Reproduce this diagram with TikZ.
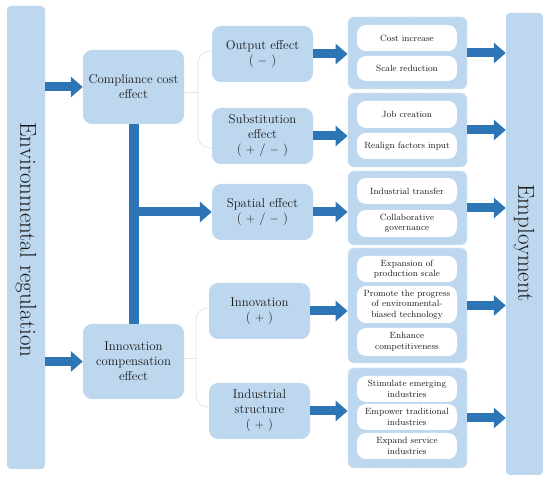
\documentclass[tikz,border=0pt]{standalone}
\usetikzlibrary{arrows.meta}
\definecolor{lb}{HTML}{BDD7EE}
\definecolor{ab}{HTML}{2E75B6}
\definecolor{brc}{HTML}{E4E4E4}
\definecolor{txt}{HTML}{1A1A1A}
\begin{document}
\begin{tikzpicture}[x=1pt,y=-1pt,
  tall/.style={fill=lb, rounded corners=4pt, inner sep=0pt, text=txt},
  talltext/.style={rotate=-90, text=txt, inner sep=0pt, font=\fontsize{23}{26}\selectfont},
  box/.style={fill=lb, rounded corners=9pt, inner sep=0pt, align=center, text=txt,
    minimum width=101pt, font=\fontsize{12.8}{15}\selectfont},
  grp/.style={fill=lb, draw=lb!55!white, dash pattern=on 3pt off 2pt, line width=0.8pt,
    rounded corners=6pt, inner sep=0pt, minimum width=119pt},
  inr/.style={fill=white, rounded corners=9pt, inner sep=0pt, align=center, text=txt,
    minimum width=100pt, font=\fontsize{9}{10.5}\selectfont},
  bigarrow/.style={draw=ab, line width=9pt,
    -{Triangle[length=12pt,width=20pt]}},
  bar/.style={draw=ab, line width=10pt},
  brace/.style={draw=brc, line width=0.8pt}
]
\useasboundingbox (0,0) rectangle (550,481);

% tall boxes
\node[tall, minimum width=38pt, minimum height=463pt] (env) at (26,237.5) {};
\node[talltext] (envt) at (26,240) {Environmental regulation};
\node[tall, minimum width=37pt, minimum height=462pt] (emp) at (524.5,244) {};
\node[talltext] (empt) at (524,243) {Employment};

% first level
\node[box, minimum height=74pt] (cc) at (133.5,87) {Compliance cost\\effect};
\node[box, minimum height=75pt] (ic) at (133.5,361.5) {Innovation\\compensation\\effect};

% second level
\node[box, minimum height=56pt] (out) at (262.5,54) {Output effect\\( $-$ )};
\node[box, minimum height=56pt] (sub) at (262.5,136) {Substitution\\effect\\( $+$ / $-$ )};
\node[box, minimum height=56pt] (sp) at (262.5,212) {Spatial effect\\( $+$ / $-$ )};
\node[box, minimum height=56pt] (inn) at (259.5,311) {Innovation\\( $+$ )};
\node[box, minimum height=56pt] (ind) at (259.5,411) {Industrial\\structure\\( $+$ )};

% groups
\node[grp, minimum height=72pt] (g1) at (407.5,53) {};
\node[grp, minimum height=74pt] (g2) at (407.5,130) {};
\node[grp, minimum height=74pt] (g3) at (407.5,208) {};
\node[grp, minimum height=115pt] (g4) at (407.5,305.5) {};
\node[grp, minimum height=100pt] (g5) at (407.5,418) {};

% inner boxes
\node[inr, minimum height=26pt] (a1) at (407,38) {Cost increase};
\node[inr, minimum height=25pt] (a2) at (407,68.5) {Scale reduction};
\node[inr, minimum height=27pt] (b1) at (407,114.5) {Job creation};
\node[inr, minimum height=26pt] (b2) at (407,146) {Realign factors input};
\node[inr, minimum height=26pt] (c1) at (407,191) {Industrial transfer};
\node[inr, minimum height=27pt] (c2) at (407,223.5) {Collaborative\\governance};
\node[inr, minimum height=26pt] (d1) at (407,269) {Expansion of\\production scale};
\node[inr, minimum height=37pt] (d2) at (407,304.5) {Promote the progress\\of environmental-\\biased technology};
\node[inr, minimum height=28pt] (d3) at (407,342) {Enhance\\competitiveness};
\node[inr, minimum height=26pt] (e1) at (407,389) {Stimulate emerging\\industries};
\node[inr, minimum height=26pt] (e2) at (407,417) {Empower traditional\\industries};
\node[inr, minimum height=26pt] (e3) at (407,446) {Expand service\\industries};

% braces
\coordinate (bs1) at (198,92);
\draw[brace] (cc.east |- bs1) -- (bs1);
\draw[brace, rounded corners=12pt] (out.west |- 0,51) -- (198,51) -- (198,148) -- (sub.west |- 0,148);
\coordinate (bs2) at (196,358);
\draw[brace] (ic.east |- bs2) -- (bs2);
\draw[brace, rounded corners=12pt] (inn.west |- 0,308) -- (196,308) -- (196,407) -- (ind.west |- 0,407);

% main connectors
\draw[bigarrow] (env.east |- cc.west) -- (cc.west);
\draw[bigarrow] (env.east |- ic.west) -- (ic.west);
\draw[bar] (cc.south) -- (ic.north);
\draw[bigarrow] (cc.south |- sp.west) -- (sp.west);

\draw[bigarrow] (out.east) -- (out.east -| g1.west);
\draw[bigarrow] (sub.east) -- (sub.east -| g2.west);
\draw[bigarrow] (sp.east) -- (sp.east -| g3.west);
\draw[bigarrow] (inn.east) -- (inn.east -| g4.west);
\draw[bigarrow] (ind.east) -- (ind.east -| g5.west);

\draw[bigarrow] (g1.east) -- (g1.east -| emp.west);
\draw[bigarrow] (g2.east) -- (g2.east -| emp.west);
\draw[bigarrow] (g3.east) -- (g3.east -| emp.west);
\draw[bigarrow] (g4.east) -- (g4.east -| emp.west);
\draw[bigarrow] (g5.east) -- (g5.east -| emp.west);
\end{tikzpicture}
\end{document}
